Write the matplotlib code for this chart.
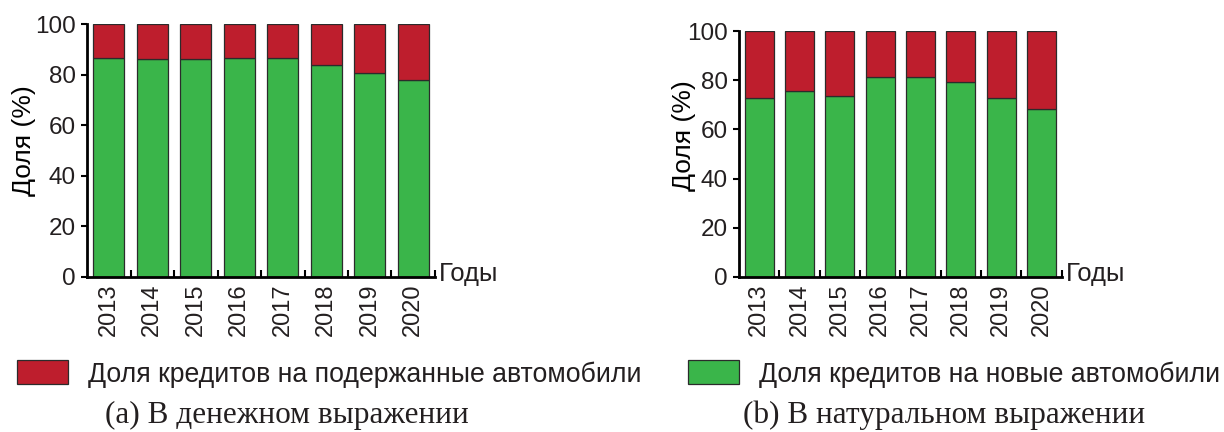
import matplotlib
matplotlib.use("Agg")
import matplotlib.pyplot as plt
import numpy as np

# ---- data ----
years = ["2013", "2014", "2015", "2016", "2017", "2018", "2019", "2020"]
# (a) money terms, share of new cars (%)
new_money = [86.8, 86.4, 86.3, 86.7, 86.6, 83.7, 80.7, 78.0]
# (b) units, share of new cars (%)
new_units = [72.9, 75.7, 73.8, 81.5, 81.4, 79.3, 72.9, 68.5]

label_used = "Доля кредитов на подержанные автомобили"
label_new = "Доля кредитов на новые автомобили"
captions = ["(a) В денежном выражении", "(b) В натуральном выражении"]

red = "#be1e2d"
green = "#3ab54a"

plt.rcParams['font.family'] = ['Liberation Sans', 'DejaVu Sans']
plt.rcParams['text.color'] = '#231f20'

W, H = 1224, 432
fig = plt.figure(figsize=(W / 100, H / 100), dpi=100)

ax_a = fig.add_axes([87 / W, (H - 276.7) / H, (435 - 87) / W, (276.7 - 24.3) / H])
ax_b = fig.add_axes([739 / W, (H - 276.7) / H, (1061.7 - 739) / W, (276.7 - 31.3) / H])


def draw(ax, new_vals, ylab_xy):
    x = np.arange(len(years))
    new_vals = np.array(new_vals)
    used_vals = 100 - new_vals
    g = ax.bar(x, new_vals, width=0.72, color=green, edgecolor="#2b2b2b", linewidth=0.9)
    r = ax.bar(x, used_vals, bottom=new_vals, width=0.72, color=red,
               edgecolor="#2b2b2b", linewidth=0.9)
    ax.set_xlim(-0.5, len(years) - 0.5)
    ax.set_ylim(0, 100)
    ax.set_yticks([0, 20, 40, 60, 80, 100])
    ax.set_xticks(x)
    ax.set_xticklabels(years, rotation=90, fontsize=17, color='#231f20')
    ax.tick_params(axis='x', length=0, pad=5)
    ax.set_xticks(np.arange(len(years)) + 0.5, minor=True)
    ax.tick_params(axis='x', which='minor', direction='in', length=5, width=1.5)
    ax.tick_params(axis='y', direction='out', length=4, width=1.5, labelsize=17.5,
                   pad=4, labelcolor='#231f20')
    for s in ['top', 'right']:
        ax.spines[s].set_visible(False)
    for s in ['left', 'bottom']:
        ax.spines[s].set_linewidth(2)
    ax.set_ylabel("Доля (%)", fontsize=19, va='center')
    ax.yaxis.set_label_coords(*ylab_xy)
    ax.text(1.012, 0.01, "Годы", transform=ax.transAxes, fontsize=18.5,
            ha='left', va='center')
    return g, r


g_a, r_a = draw(ax_a, new_money, (-0.182, 0.538))
g_b, r_b = draw(ax_b, new_units, (-0.170, 0.573))

leg_y = (H - 374) / H
fig.legend(handles=[r_a], labels=[label_used], loc='center left',
           bbox_to_anchor=(17 / W, leg_y), frameon=False, fontsize=19.2,
           handlelength=1.9, handleheight=1.0, handletextpad=0.75,
           borderpad=0, borderaxespad=0)
fig.legend(handles=[g_b], labels=[label_new], loc='center left',
           bbox_to_anchor=(688 / W, leg_y), frameon=False, fontsize=19.2,
           handlelength=1.9, handleheight=1.0, handletextpad=0.75,
           borderpad=0, borderaxespad=0)

fig.text(105 / W, (H - 415) / H, captions[0], family='Liberation Serif',
         fontsize=22.5, ha='left', va='center')
fig.text(743 / W, (H - 415) / H, captions[1], family='Liberation Serif',
         fontsize=22.5, ha='left', va='center')

fig.savefig("out.png", dpi=100)
